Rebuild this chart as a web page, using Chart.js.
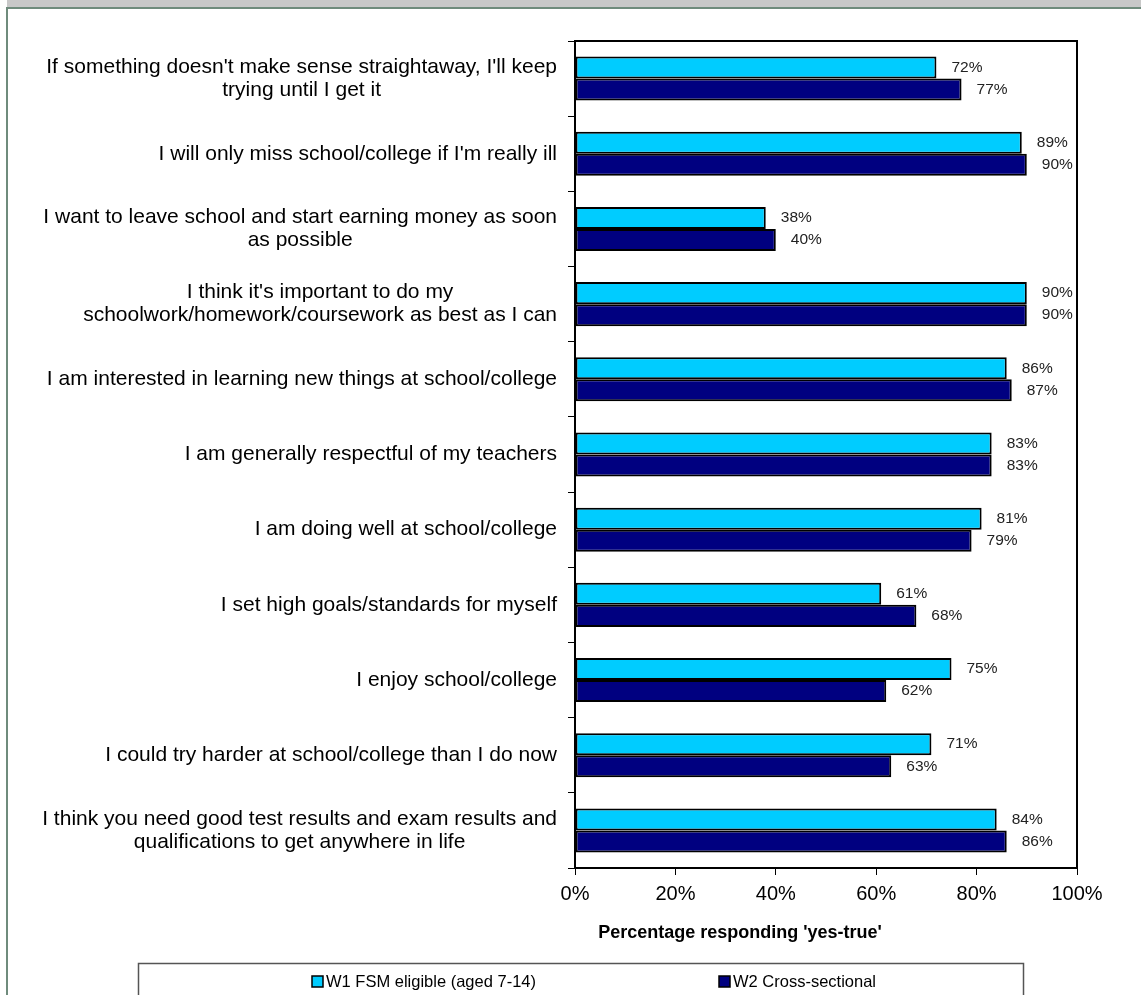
<!DOCTYPE html>
<html>
<head>
<meta charset="utf-8">
<script src="https://cdn.jsdelivr.net/npm/chart.js@4"></script>
<style>
    html, body { margin: 0; padding: 0; background: #fff; }
    body { width: 1141px; height: 995px; position: relative; overflow: hidden; }
    .strip { position: absolute; left: 7px; top: 0; right: 0; height: 7px; background: #c8c8c8; }
    .frame { position: absolute; left: 6px; top: 7px; right: -10px; bottom: -10px;
             border-top: 2px solid #6f8b7c; border-left: 2px solid #6f8b7c; }
    #chartWrap { position: absolute; left: 0; top: 0; width: 1141px; height: 995px; }
</style>
</head>
<body>
<div class="strip"></div>
<div class="frame"></div>
<div id="chartWrap"><canvas id="graficaActitudes" width="1141" height="995"></canvas></div>
<script>
const categorias = [
    ["If something doesn't make sense straightaway, I'll keep", "trying until I get it"],
    "I will only miss school/college if I'm really ill",
    ["I want to leave school and start earning money as soon", "as possible"],
    ["I think it's important to do my", "schoolwork/homework/coursework as best as I can"],
    "I am interested in learning new things at school/college",
    "I am generally respectful of my teachers",
    "I am doing well at school/college",
    "I set high goals/standards for myself",
    "I enjoy school/college",
    "I could try harder at school/college than I do now",
    ["I think you need good test results and exam results and", "qualifications to get anywhere in life"]
];
const serieW1 = [72, 89, 38, 90, 86, 83, 81, 61, 75, 71, 84];
const serieW2 = [77, 90, 40, 90, 87, 83, 79, 68, 62, 63, 86];
const nombresSeries = ['W1 FSM eligible (aged 7-14)', 'W2 Cross-sectional'];
const ticksX = [0, 20, 40, 60, 80, 100];
const tituloX = "Percentage responding 'yes-true'";

const FUENTE = 'Arial, "Liberation Sans", sans-serif';

// etiquetas de categoria: cada bloque alineado a la derecha, lineas centradas
const etiquetasCategoria = {
    id: 'etiquetasCategoria',
    afterDraw(chart) {
        const ctx = chart.ctx;
        const y = chart.scales.y;
        const derecha = 557;
        const alto = 23;
        ctx.save();
        ctx.font = '21px ' + FUENTE;
        ctx.fillStyle = '#000';
        ctx.textAlign = 'center';
        ctx.textBaseline = 'middle';
        chart.data.labels.forEach(function(lab, i) {
            const lineas = Array.isArray(lab) ? lab : [lab];
            const ancho = Math.max.apply(null, lineas.map(l => ctx.measureText(l).width));
            const cx = derecha - ancho / 2;
            const cy = y.getPixelForValue(i);
            lineas.forEach(function(l, k) {
                ctx.fillText(l, cx, cy + (k - (lineas.length - 1) / 2) * alto);
            });
        });
        ctx.restore();
    }
};

// valores al final de cada barra, marco del area, titulo del eje y leyenda
const extras = {
    id: 'extras',
    afterDatasetsDraw(chart) {
        const ctx = chart.ctx;
        ctx.save();
        ctx.font = '15.5px ' + FUENTE;
        ctx.fillStyle = '#222';
        ctx.textAlign = 'left';
        ctx.textBaseline = 'middle';
        chart.data.datasets.forEach(function(ds, d) {
            chart.getDatasetMeta(d).data.forEach(function(bar, i) {
                ctx.fillText(ds.data[i] + '%', bar.x + 15, bar.y);
            });
        });
        ctx.restore();
    },
    afterDraw(chart) {
        const ctx = chart.ctx;
        const a = chart.chartArea;
        ctx.save();
        ctx.strokeStyle = '#000';
        ctx.lineWidth = 2;
        ctx.strokeRect(a.left, a.top, a.right - a.left, a.bottom - a.top);

        ctx.font = 'bold 18px ' + FUENTE;
        ctx.fillStyle = '#000';
        ctx.textAlign = 'center';
        ctx.textBaseline = 'middle';
        ctx.fillText(tituloX, 740, 933);

        // leyenda
        ctx.lineWidth = 1.5;
        ctx.strokeStyle = '#555';
        ctx.strokeRect(138.5, 963.5, 885, 60);
        ctx.font = '16.5px ' + FUENTE;
        ctx.textAlign = 'left';
        const xs = [312, 719];
        chart.data.datasets.forEach(function(ds, d) {
            ctx.fillStyle = ds.backgroundColor;
            ctx.fillRect(xs[d], 976, 11, 11);
            ctx.strokeStyle = '#000';
            ctx.lineWidth = 1.5;
            ctx.strokeRect(xs[d], 976, 11, 11);
            ctx.fillStyle = '#000';
            ctx.fillText(ds.label, xs[d] + 14, 982);
        });
        ctx.restore();
    }
};

document.addEventListener('DOMContentLoaded', function() {
    const ctxActitudes = document.getElementById('graficaActitudes');
    new Chart(ctxActitudes, {
        type: 'bar',
        data: {
            labels: categorias,
            datasets: [{
                label: nombresSeries[0],
                data: serieW1,
                backgroundColor: '#00CCFF',
                borderColor: '#000',
                borderWidth: 2,
                borderSkipped: false
            }, {
                label: nombresSeries[1],
                data: serieW2,
                backgroundColor: '#000080',
                borderColor: '#000',
                borderWidth: 2,
                borderSkipped: false
            }]
        },
        options: {
            indexAxis: 'y',
            responsive: false,
            animation: false,
            devicePixelRatio: 1,
            layout: {
                padding: { left: 568, top: 41, right: 64, bottom: 82 }
            },
            datasets: {
                bar: { categoryPercentage: 0.586, barPercentage: 1 }
            },
            scales: {
                x: {
                    min: 0,
                    max: 100,
                    afterBuildTicks: function(scale) {
                        scale.ticks = ticksX.map(v => ({ value: v }));
                    },
                    ticks: {
                        callback: v => v + '%',
                        color: '#000',
                        padding: 7,
                        font: { family: FUENTE, size: 20 }
                    },
                    grid: { drawOnChartArea: false, tickLength: 7, color: '#000', lineWidth: 1 },
                    border: { color: '#000', width: 2 }
                },
                y: {
                    ticks: { display: false },
                    grid: { drawOnChartArea: false, tickLength: 7, color: '#000', lineWidth: 1 },
                    border: { color: '#000', width: 2 }
                }
            },
            plugins: {
                legend: { display: false },
                tooltip: { enabled: false },
                title: { display: false }
            }
        },
        plugins: [etiquetasCategoria, extras]
    });
});
</script>
</body>
</html>
